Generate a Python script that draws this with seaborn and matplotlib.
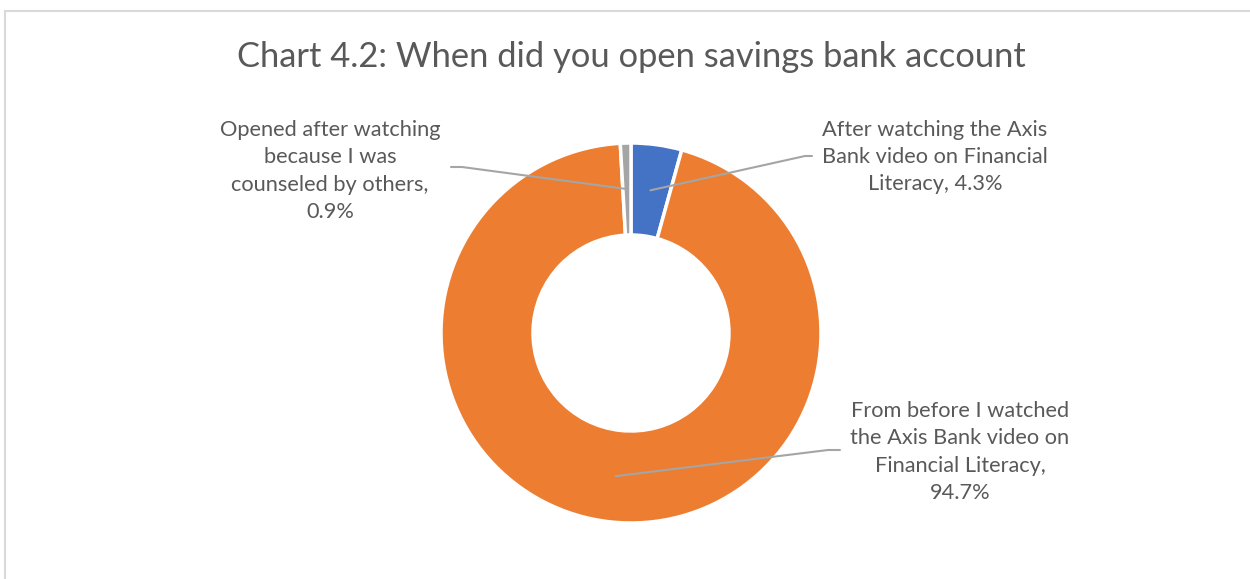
import numpy as np
import matplotlib
matplotlib.use("Agg")
import matplotlib.pyplot as plt
import seaborn as sns

# ---- data ----
categories = [
    "After watching the Axis\nBank video on Financial\nLiteracy",
    "From before I watched\nthe Axis Bank video on\nFinancial Literacy,",
    "Opened after watching\nbecause I was\ncounseled by others,",
]
values = [4.3, 94.7, 0.9]
value_labels = ["4.3%", "94.7%", "0.9%"]
colors = ["#4472C4", "#ED7D31", "#A5A5A5"]
title = "Chart 4.2: When did you open savings bank account"

sns.set_theme(style="white")
plt.rcParams["font.family"] = ["Lato", "DejaVu Sans"]

W, H = 1250, 579
fig = plt.figure(figsize=(W / 100, H / 100), dpi=100)
ax = fig.add_axes([0, 0, 1, 1])

txt_col = "#595959"
line_col = "#A5A5A5"

cx, cy = 631, H - 333
R_out, R_in = 190, 98
wedges, _ = ax.pie(values, colors=colors, startangle=90, counterclock=False,
                   radius=R_out, center=(cx, cy), frame=True,
                   wedgeprops=dict(width=R_out - R_in, edgecolor="white", linewidth=2.5))
ax.set_xlim(0, W)
ax.set_ylim(0, H)
ax.set_aspect("equal")
ax.axis("off")

# frame border
ax.add_patch(plt.Rectangle((5, -10), W + 10, H - 11 + 10, fill=False,
                           edgecolor="#D9D9D9", linewidth=1.5, zorder=0))

ax.text(cx, H - 57, title, ha="center", va="center", fontsize=24.8, color=txt_col)

# label layout (pixel positions from top)
label_pos = [(935, 157), (960, 452), (330, 171)]
label_texts = [
    "After watching the Axis\nBank video on Financial\nLiteracy, " + value_labels[0],
    categories[1] + "\n" + value_labels[1],
    categories[2] + "\n" + value_labels[2],
]
elbows = [((812, 156), (805, 156)), ((840, 450), (828, 450)), ((451, 167), (462, 167))]

for w, lp, t, el in zip(wedges, label_pos, label_texts, elbows):
    ang = np.deg2rad((w.theta1 + w.theta2) / 2)
    rm = (R_out + R_in) / 2
    ax_x = cx + rm * np.cos(ang)
    ax_y = cy + rm * np.sin(ang)
    ax.text(lp[0], H - lp[1], t, ha="center", va="center", fontsize=15.7,
            color=txt_col, linespacing=1.45)
    xs = [el[0][0], el[1][0], ax_x]
    ys = [H - el[0][1], H - el[1][1], ax_y]
    ax.plot(xs, ys, color=line_col, linewidth=1.5, zorder=5)

fig.savefig("out.png", dpi=100, facecolor="white")
